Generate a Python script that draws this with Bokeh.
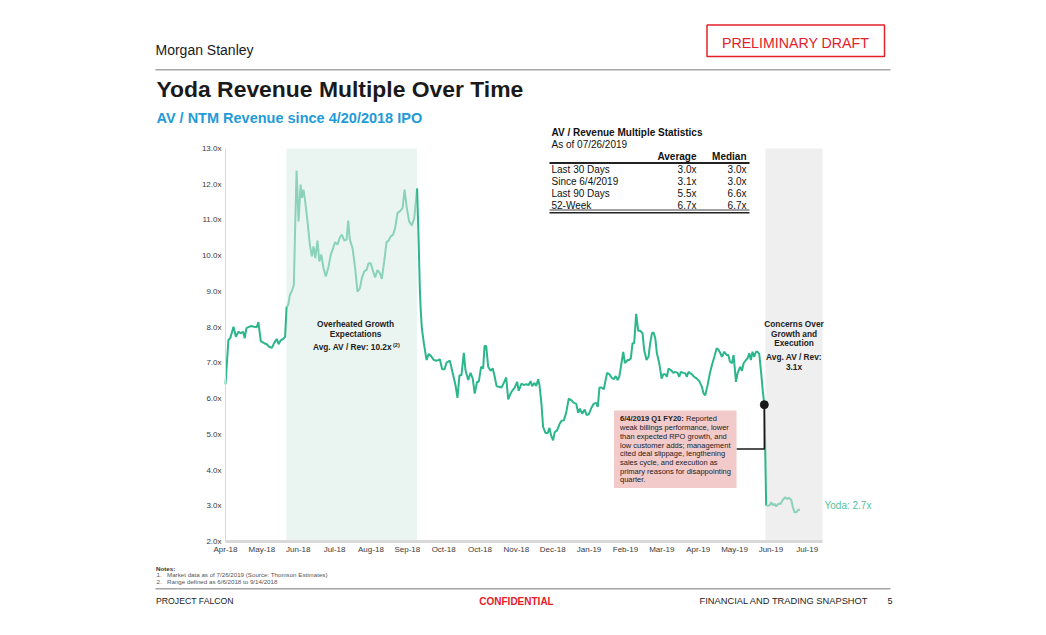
from bokeh.plotting import figure
from bokeh.models import Range1d, FixedTicker, Label, BoxAnnotation
from bokeh.embed import file_html
from bokeh.resources import INLINE

# ---------------- data ----------------
# x = trading-day index since the 4/20/2018 IPO, y = AV / NTM revenue multiple
DAY = [
    0, 1.6, 2.7, 4.4, 5.7, 7.1, 8.4, 9.7, 10.6, 11.5,
    13.9, 15.8, 17.2, 18.1, 19.4, 21.3, 22.7, 24.0, 25.5, 26.8,
    28.2, 29.2, 30.4, 31.9, 32.8, 33.6, 34.5, 35.4, 36.5, 37.6,
    38.4, 39.1, 40.2, 41.3, 42.0, 42.9, 43.9, 45.1, 46.4, 47.5,
    48.4, 49.4, 50.6, 51.6, 52.7, 53.9, 55.2, 56.7, 57.9, 59.2,
    60.3, 61.6, 62.9, 64.0, 65.3, 66.6, 67.5, 68.4, 69.9, 71.3,
    72.6, 73.9, 75.0, 76.3, 77.6, 78.7, 79.9, 81.2, 82.3, 83.6,
    84.9, 86.0, 87.3, 88.6, 89.7, 90.9, 92.2, 93.3, 94.6, 95.9,
    97.4, 98.5, 99.6, 101.0, 102.5, 103.8, 105.4, 106.2, 106.9, 107.3,
    108.0, 109.1, 110.6, 111.8, 113.1, 114.6, 116.4, 117.9, 119.2, 120.5,
    121.6, 123.4, 125.0, 126.5, 127.6, 128.7, 129.8, 131.1, 132.0, 133.5,
    134.8, 136.0, 137.1, 138.4, 139.3, 140.6, 141.7, 142.5, 143.4, 144.5,
    145.8, 147.0, 148.1, 149.1, 150.3, 151.8, 153.1, 154.4, 155.5, 156.8,
    158.0, 159.1, 160.4, 161.3, 162.8, 164.1, 165.4, 166.8, 167.8, 168.7,
    170.0, 170.9, 172.0, 172.7, 173.8, 174.7, 176.0, 177.3, 178.2, 179.1,
    180.2, 181.1, 182.4, 183.7, 184.8, 186.1, 187.4, 188.8, 190.1, 191.6,
    192.9, 194.0, 194.9, 196.2, 197.6, 198.6, 199.8, 201.1, 202.6, 203.9,
    204.8, 205.7, 206.8, 208.1, 209.9, 211.2, 212.3, 213.6, 214.6, 215.7,
    216.6, 217.5, 218.8, 219.7, 221.2, 222.1, 223.0, 223.9, 224.8, 225.9,
    227.0, 228.1, 229.4, 230.3, 231.6, 232.7, 233.6, 234.6, 235.5, 236.4,
    237.3, 238.6, 239.9, 240.8, 241.9, 242.8, 243.7, 245.0, 246.3, 247.4,
    248.7, 249.6, 250.5, 251.8, 252.9, 253.8, 254.7, 255.6, 256.6, 257.8,
    259.3, 260.6, 261.9, 263.0, 263.9, 265.2, 266.5, 267.6, 268.9, 270.2,
    271.3, 272.2, 273.1, 274.4, 275.7, 276.6, 277.5, 278.6, 279.5, 280.8,
    281.7, 283.1, 284.1, 285.0, 286.3, 287.2, 288.1, 289.0, 289.9, 290.8,
    291.8, 292.7, 293.6, 294.6, 295.5, 296.4, 296.8, 297.4, 298.3, 299.2,
    300.2, 301.1, 302.0, 302.9, 304.2, 305.3, 306.6, 307.9, 309.0, 309.9,
    311.2, 312.1, 313.0, 314.1, 315.2, 316.0,
]
MULTIPLE = [
    6.40, 7.64, 7.70, 8.01, 7.73, 7.87, 7.83, 7.87, 7.69, 7.97,
    8.03, 8.01, 8.00, 8.14, 7.61, 7.55, 7.52, 7.45, 7.42, 7.56,
    7.67, 7.52, 7.63, 7.68, 7.73, 8.57, 8.62, 8.90, 9.01, 9.18,
    10.96, 12.38, 10.96, 11.99, 11.62, 11.85, 11.49, 10.96, 10.31, 9.98,
    10.26, 9.93, 10.42, 9.84, 10.03, 9.65, 9.42, 9.70, 10.03, 10.21,
    10.38, 10.31, 10.51, 10.59, 10.42, 10.45, 10.98, 10.45, 10.21, 9.65,
    8.99, 9.08, 9.37, 9.56, 9.60, 9.79, 9.79, 9.56, 9.39, 9.60,
    9.51, 9.35, 9.84, 10.38, 10.42, 10.54, 10.59, 10.77, 11.19, 11.24,
    11.33, 11.85, 11.38, 10.96, 10.85, 11.04, 11.88, 10.49, 9.09, 8.57,
    7.97, 7.55, 7.08, 7.25, 7.19, 7.08, 7.06, 7.10, 6.82, 6.82,
    7.01, 7.06, 6.71, 6.38, 6.02, 6.65, 6.65, 7.28, 6.80, 6.52,
    6.72, 6.56, 6.14, 6.47, 6.47, 6.89, 6.84, 7.47, 7.47, 6.89,
    6.78, 6.84, 6.61, 6.35, 6.33, 6.31, 6.44, 6.59, 5.98, 6.14,
    6.24, 6.31, 6.47, 6.22, 6.42, 6.38, 6.40, 6.38, 6.49, 6.35,
    6.44, 6.35, 6.54, 6.38, 5.86, 5.21, 5.04, 5.04, 5.18, 4.97,
    4.83, 5.06, 5.11, 5.28, 5.38, 5.39, 5.60, 6.00, 5.96, 5.88,
    5.86, 5.60, 5.72, 5.58, 5.69, 5.54, 5.56, 5.72, 5.86, 5.88,
    5.77, 6.31, 6.31, 6.26, 6.72, 6.68, 6.59, 6.54, 6.63, 6.52,
    6.61, 6.89, 7.31, 6.99, 7.08, 7.08, 7.13, 7.55, 7.55, 8.37,
    7.90, 7.90, 7.83, 7.36, 7.08, 7.17, 7.55, 7.83, 7.85, 7.69,
    7.27, 6.99, 6.56, 6.68, 6.68, 6.61, 6.84, 6.80, 6.72, 6.75,
    6.72, 6.61, 6.75, 6.72, 6.71, 6.61, 6.75, 6.71, 6.68, 6.61,
    6.56, 6.49, 6.35, 6.14, 6.09, 6.38, 6.72, 6.94, 7.17, 7.41,
    7.36, 7.27, 7.17, 7.31, 7.22, 7.22, 7.03, 6.99, 7.22, 6.47,
    6.71, 6.89, 6.78, 6.99, 7.08, 7.13, 7.27, 7.08, 7.31, 7.17,
    7.31, 7.31, 7.25, 6.75, 6.24, 5.83, 4.83, 3.01, 3.01, 3.01,
    3.10, 3.01, 3.06, 2.98, 3.06, 3.05, 3.17, 3.24, 3.19, 3.22,
    3.17, 2.96, 2.82, 2.82, 2.89, 2.89,
]
X_TICKS = [0, 20, 40, 60, 80, 100, 120, 140, 160, 180, 200, 220, 240, 260, 280, 300, 320]
X_LABELS = ["Apr-18", "May-18", "Jun-18", "Jul-18", "Aug-18", "Sep-18", "Oct-18", "Oct-18",
            "Nov-18", "Dec-18", "Jan-19", "Feb-19", "Mar-19", "Apr-19", "May-19", "Jun-19", "Jul-19"]
Y_TICKS = [2, 3, 4, 5, 6, 7, 8, 9, 10, 11, 12, 13]
X_END = 328.4                   # right end of the plotted period
Y_MIN, Y_MAX = 2, 13
OVERHEATED = (33.5, 105.3)      # 6/6/2018 - 9/14/2018
CONCERNS_START = 297.0          # after 6/4/2019
EVENT_DAY = 296.4               # 6/4/2019 Q1 FY20 print

STAT_ROWS = ["Last 30 Days", "Since 6/4/2019", "Last 90 Days", "52-Week"]
STAT_AVG = ["3.0x", "3.1x", "5.5x", "6.7x"]
STAT_MED = ["3.0x", "3.0x", "6.6x", "6.7x"]

# ---------------- layout / styling ----------------
FONT = "Liberation Sans"
DARK = "#2CB68B"
LIGHT = "#8AD2B9"
W, H = 1046, 635
# frame of the figure (page px); the chart area inside it is fixed below
FR_L, FR_R, FR_T, FR_B = 40, W, 0, 616
CH_L, CH_R, CH_T, CH_B = 225, 822, 148, 541   # chart area in page px
PX_PER_DAY = (CH_R - CH_L) / X_END
PX_PER_UNIT = (CH_B - CH_T) / (Y_MAX - Y_MIN)

x_start = (FR_L - CH_L) / PX_PER_DAY
x_end = (FR_R - CH_L) / PX_PER_DAY
y_start = Y_MIN - (FR_B - CH_B) / PX_PER_UNIT
y_end = Y_MAX + (CH_T - FR_T) / PX_PER_UNIT

p = figure(width=W, height=H, output_backend="svg", toolbar_location=None,
           x_range=Range1d(x_start, x_end), y_range=Range1d(y_start, y_end),
           min_border_left=FR_L, min_border_right=W - FR_R,
           min_border_top=FR_T, min_border_bottom=H - FR_B)
p.outline_line_color = None
p.xgrid.visible = False
p.ygrid.visible = False
p.background_fill_color = "white"
p.border_fill_color = "white"

for ax in (p.xaxis[0], p.yaxis[0]):
    ax.major_tick_line_color = None
    ax.minor_tick_line_color = None
    ax.major_tick_out = 0
    ax.major_tick_in = 0
    ax.minor_tick_out = 0
    ax.minor_tick_in = 0
    ax.major_label_text_font = FONT
    ax.major_label_text_font_size = "8px"
    ax.major_label_text_color = "#3a3a3a"
p.xaxis.ticker = FixedTicker(ticks=X_TICKS)
p.xaxis.major_label_overrides = dict(zip(X_TICKS, X_LABELS))
p.xaxis.axis_line_color = "#D9D9D9"
p.xaxis.axis_line_width = 3
p.xaxis.major_label_standoff = 3
p.xaxis.fixed_location = Y_MIN
p.xaxis.bounds = (0, X_END)
p.yaxis.ticker = FixedTicker(ticks=Y_TICKS)
p.yaxis.major_label_overrides = {v: f"{v:.1f}x" for v in Y_TICKS}
p.yaxis.axis_line_color = "#D9D9D9"
p.yaxis.axis_line_width = 1
p.yaxis.major_label_standoff = 4
p.yaxis.fixed_location = 0
p.yaxis.bounds = (Y_MIN, Y_MAX)

# shaded periods
p.add_layout(BoxAnnotation(left=OVERHEATED[0], right=OVERHEATED[1], bottom=Y_MIN, top=Y_MAX,
                           fill_color="#EAF5F2", fill_alpha=1, line_color=None, level="underlay"))
p.add_layout(BoxAnnotation(left=CONCERNS_START, right=X_END, bottom=Y_MIN, top=Y_MAX,
                           fill_color="#EFEFEF", fill_alpha=1, line_color=None, level="underlay"))


def first_at_or_after(v):
    for i, d in enumerate(DAY):
        if d >= v:
            return i
    return len(DAY) - 1


i1 = first_at_or_after(OVERHEATED[0])
i2 = first_at_or_after(OVERHEATED[1])
i3 = first_at_or_after(CONCERNS_START)
segments = [(0, i1, DARK), (i1, i2, LIGHT), (i2, i3, DARK), (i3, len(DAY) - 1, LIGHT)]
for a, b, c in segments:
    p.line(DAY[a:b + 1], MULTIPLE[a:b + 1], line_color=c, line_width=2)


def to_day(px):
    return (px - CH_L) / PX_PER_DAY


def to_mult(py):
    return Y_MIN + (CH_B - py) / PX_PER_UNIT


ev_mult = MULTIPLE[DAY.index(EVENT_DAY)]
conn_y = to_mult(448.5)
p.line([to_day(736), EVENT_DAY, EVENT_DAY], [conn_y, conn_y, ev_mult],
       line_color="#1a1a1a", line_width=1.5)
p.scatter([EVENT_DAY], [ev_mult], size=8, color="#1a1a1a")


def txt(px, py, s, size, color="#222222", bold=False, align="left", baseline="middle"):
    p.add_layout(Label(x=px - FR_L, y=FR_B - py, x_units="screen", y_units="screen",
                       text=s, text_font=FONT, text_font_size=f"{size}px",
                       text_font_style="bold" if bold else "normal",
                       text_color=color, text_align=align, text_baseline=baseline))


def rect(x0, y0, x1, y1, fill=None, line=None, lw=1.0, level="annotation"):
    p.add_layout(BoxAnnotation(left=x0 - FR_L, right=x1 - FR_L,
                               top=FR_B - y0, bottom=FR_B - y1,
                               left_units="screen", right_units="screen",
                               top_units="screen", bottom_units="screen",
                               fill_color=fill if fill else "white",
                               fill_alpha=1 if fill else 0,
                               line_color=line if line else "white",
                               line_alpha=1 if line else 0, line_width=lw, level=level))


# ---------------- page header ----------------
txt(155, 49, "Morgan Stanley", 14, color="#1a1a1a")
rect(155, 68.5, 890, 70, fill="#A6A6A6")
rect(706.5, 24.5, 884, 56, line="#E3212B", lw=1.5)
txt(795, 42, "PRELIMINARY DRAFT", 14.2, color="#E3212B", align="center")
txt(156, 88.5, "Yoda Revenue Multiple Over Time", 22.9, color="#1a1a1a", bold=True)
txt(156, 117.5, "AV / NTM Revenue since 4/20/2018 IPO", 14.5, color="#1F9BD8", bold=True)

# ---------------- statistics table ----------------
txt(551, 131.5, "AV / Revenue Multiple Statistics", 10, bold=True, color="#111111")
txt(551, 144, "As of 07/26/2019", 10, color="#111111")
txt(696, 156, "Average", 10, bold=True, color="#111111", align="right")
txt(746, 156, "Median", 10, bold=True, color="#111111", align="right")
rect(549, 161.5, 749, 163.5, fill="#222222")
for k, (r, a, m) in enumerate(zip(STAT_ROWS, STAT_AVG, STAT_MED)):
    yy = 168.5 + k * 12.2
    txt(551, yy, r, 10, color="#111111")
    txt(696, yy, a, 10, color="#111111", align="right")
    txt(746, yy, m, 10, color="#111111", align="right")
rect(549, 209, 749, 210, fill="#444444")
rect(549, 211.5, 749, 213, fill="#222222")

# ---------------- in-chart annotations ----------------
txt(355, 323.5, "Overheated Growth", 8.3, bold=True, color="#222222", align="center")
txt(355, 333, "Expectations", 8.3, bold=True, color="#222222", align="center")
txt(312.5, 346.5, "Avg. AV / Rev: 10.2x", 8.3, bold=True, color="#222222")
txt(392.5, 344, "(2)", 5.5, bold=True, color="#222222")

for yy, s in [(323.5, "Concerns Over"), (333, "Growth and"), (342.8, "Execution"),
              (356.8, "Avg. AV / Rev:"), (366.8, "3.1x")]:
    txt(793.5, yy, s, 8.3, bold=True, color="#222222", align="center")

rect(613.5, 410, 736, 487.5, fill="#F3CACA")
txt(619.5, 418.3, "6/4/2019  Q1 FY20:", 7.5, bold=True, color="#222222")
txt(685.5, 418.3, "Reported", 7.5, color="#222222")
call_lines = ["weak billings performance, lower", "than expected RPO growth, and",
              "low customer adds; management", "cited deal slippage, lengthening",
              "sales cycle, and execution as", "primary reasons for disappointing", "quarter."]
for k, s in enumerate(call_lines):
    txt(619.5, 427.1 + k * 8.7, s, 7.5, color="#222222")

txt(824, 505, "Yoda: 2.7x", 10, color="#52BF9E")

# ---------------- notes and footer ----------------
txt(155.5, 567.5, "Notes:", 6.2, bold=True, color="#333333")
txt(156, 574.2, "1.", 6.2, color="#555555")
txt(166.5, 574.2, "Market data as of 7/26/2019 (Source: Thomson Estimates)", 6.2, color="#555555")
txt(156, 581, "2.", 6.2, color="#555555")
txt(166.5, 581, "Range defined as 6/6/2018 to 9/14/2018", 6.2, color="#555555")
rect(155, 587.5, 890, 589, fill="#A6A6A6")
txt(155.5, 600, "PROJECT FALCON", 8.7, color="#222222")
txt(516, 600.5, "CONFIDENTIAL", 10, bold=True, color="#E3212B", align="center")
txt(868, 600, "FINANCIAL AND TRADING SNAPSHOT", 9.3, color="#222222", align="right")
txt(887, 600, "5", 9, color="#222222")

open("out.html", "w").write(file_html(p, INLINE))
